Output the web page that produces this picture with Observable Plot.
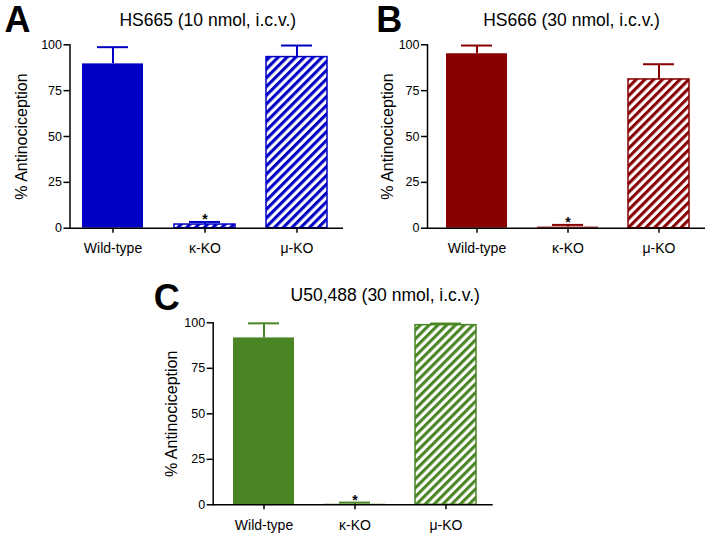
<!DOCTYPE html>
<html><head><meta charset="utf-8">
<script src="https://cdn.jsdelivr.net/npm/d3@7"></script>
<script src="https://cdn.jsdelivr.net/npm/@observablehq/plot@0.6"></script>
<style>
html,body{margin:0;padding:0;background:#fff;}
#root{position:relative;width:709px;height:536px;overflow:hidden;background:#fff;}
#root svg{position:absolute;}
</style></head><body><div id="root"></div>
<script>
// ---- data ----
const categories = ["Wild-type", "κ-KO", "μ-KO"];
const significance = ["", "*", ""];
const yTicks = [0, 25, 50, 75, 100];
const yLabel = "% Antinociception";
const panelLetters = ["A", "B", "C"];
const panelTitles = ["HS665 (10 nmol, i.c.v.)", "HS666 (30 nmol, i.c.v.)", "U50,488 (30 nmol, i.c.v.)"];
const hs665Mean = [89.6, 2.0, 93.3];
const hs665Upper = [98.7, 3.4, 99.6];
const hs666Mean = [95.1, 0.6, 81.1];
const hs666Upper = [99.6, 1.8, 89.4];
const u50488Mean = [91.7, 0.3, 98.7];
const u50488Upper = [99.7, 1.2, 99.6];

// ---- layout / style ----
const FONT = "'Liberation Sans', Arial, Helvetica, sans-serif";
const panels = [
  {i:0, mean:hs665Mean, upper:hs665Upper, color:"#0000c4", hatched:["κ-KO","μ-KO"],
   left:0, top:0, width:354, height:265, mL:69.5, mR:11, mT:44.3, mB:37.3, xRange:[67,343],
   titleDx:1, titleDy:-24, letterDx:-65.5, letterDy:-24.3, ylabDx:-47.8},
  {i:1, mean:hs666Mean, upper:hs666Upper, color:"#880000", hatched:["μ-KO"],
   left:354, top:0, width:355, height:265, mL:73, mR:4, mT:44.3, mB:37.3, xRange:[75.75,350.25],
   titleDx:5, titleDy:-24, letterDx:-51.3, letterDy:-24.8, ylabDx:-39.7},
  {i:2, mean:u50488Mean, upper:u50488Upper, color:"#4a8524", hatched:["μ-KO"],
   left:140, top:270, width:360, height:266, mL:72.7, mR:7.3, mT:52.3, mB:31.7, xRange:[77.25,351.75],
   titleDx:32, titleDy:-27, letterDx:-59.4, letterDy:-24.8, ylabDx:-41}
];

const root = document.getElementById("root");

for (const cfg of panels) {
  const data = categories.map((c, k) => ({cat: c, mean: cfg.mean[k], upper: cfg.upper[k], star: significance[k]}));
  const pid = "hatch-" + cfg.i;
  const solid = data.filter(d => !cfg.hatched.includes(d.cat));
  const hatch = data.filter(d => cfg.hatched.includes(d.cat));
  const svg = Plot.plot({
    width: cfg.width, height: cfg.height,
    marginLeft: cfg.mL, marginRight: cfg.mR, marginTop: cfg.mT, marginBottom: cfg.mB,
    style: {fontFamily: FONT, fontSize: "14px", color: "black", background: "transparent", overflow: "visible"},
    x: {domain: categories, range: cfg.xRange, paddingInner: 0.335, paddingOuter: 0.1675},
    y: {domain: [0, 100]},
    marks: [
      Plot.barY(solid, {x: "cat", y: "mean", fill: cfg.color}),
      Plot.barY(hatch, {x: "cat", y: "mean", fill: `url(#${pid})`, stroke: cfg.color, strokeWidth: 1.5}),
      Plot.ruleX(data, {x: "cat", y1: "mean", y2: "upper", stroke: cfg.color, strokeWidth: 2}),
      Plot.tickY(data, {x: "cat", y: "upper", stroke: cfg.color, strokeWidth: 2, insetLeft: 15, insetRight: 15}),
      Plot.text(data.filter(d => d.star), {x: "cat", y: "upper", text: "star", fontSize: 14, fontWeight: "bold", lineAnchor: "bottom", dy: 2}),
      Plot.ruleY([0], {strokeWidth: 1.5}),
      Plot.frame({anchor: "left", strokeWidth: 1.5}),
      Plot.axisY({ticks: yTicks, tickSize: 6, tickPadding: 2, fontSize: 12.5, label: null, strokeWidth: 1.5}),
      Plot.axisX({tickSize: 5, tickPadding: 10, fontSize: 14, label: null, strokeWidth: 1.5}),
      Plot.text([yLabel], {frameAnchor: "left", rotate: -90, dx: cfg.ylabDx, fontSize: 16, textAnchor: "middle", lineAnchor: "middle"}),
      Plot.text([panelTitles[cfg.i]], {frameAnchor: "top", dx: cfg.titleDx, dy: cfg.titleDy, fontSize: 17.5, lineAnchor: "middle"}),
      Plot.text([panelLetters[cfg.i]], {frameAnchor: "top-left", textAnchor: "start", dx: cfg.letterDx, dy: cfg.letterDy, fontSize: 36, fontWeight: "bold", lineAnchor: "middle"})
    ]
  });
  const defs = d3.select(svg).insert("defs", ":first-child");
  const pat = defs.append("pattern").attr("id", pid).attr("patternUnits", "userSpaceOnUse")
    .attr("width", 6.2).attr("height", 6.2).attr("patternTransform", "rotate(45)");
  pat.append("rect").attr("width", 6.2).attr("height", 6.2).attr("fill", "white");
  pat.append("rect").attr("width", 3.1).attr("height", 6.2).attr("fill", cfg.color);
  svg.style.left = cfg.left + "px";
  svg.style.top = cfg.top + "px";
  root.appendChild(svg);
}
</script>
</body></html>
